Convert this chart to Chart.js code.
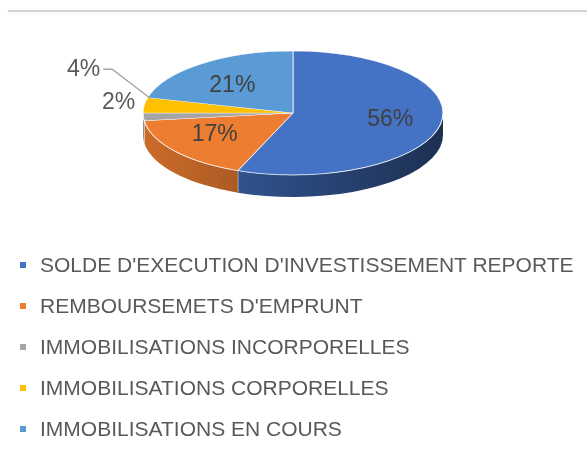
<!DOCTYPE html>
<html>
<head>
<meta charset="utf-8">
<script src="https://cdn.jsdelivr.net/npm/chart.js@4.4.1/dist/chart.umd.min.js"></script>
<style>
  body { margin: 0; background: #fff; font-family: "Liberation Sans", Arial, sans-serif; }
  #wrap { position: relative; width: 587px; height: 452px; overflow: hidden; }
  #topRule { position: absolute; left: 8px; right: 0; top: 10px; height: 2px; background: #d3d3d3; box-shadow: 0 2px 3px rgba(0,0,0,0.05); }
  #pie { position: absolute; left: 0; top: 0; }
  #legend { position: absolute; left: 0; top: 244px; margin: 0; padding: 0; list-style: none; }
  #legend li { position: relative; height: 41px; line-height: 41px; padding-left: 40px; font-size: 21px; color: #595959; white-space: nowrap; }
  #legend li span { position: absolute; left: 20px; top: 18px; width: 6px; height: 6px; }
</style>
</head>
<body>
<div id="wrap">
  <div id="topRule"></div>
  <canvas id="pie" width="587" height="452"></canvas>
  <ul id="legend"></ul>
</div>
<script>
const categories = [
  "SOLDE D'EXECUTION D'INVESTISSEMENT REPORTE",
  "REMBOURSEMETS D'EMPRUNT",
  "IMMOBILISATIONS INCORPORELLES",
  "IMMOBILISATIONS CORPORELLES",
  "IMMOBILISATIONS EN COURS"
];
const shares = [56, 17, 2, 4, 21];
const sliceColors = ['#4472C4', '#ED7D31', '#A5A5A5', '#FFC000', '#5B9BD5'];

// where the tilted pie sits on the page
const PIE = { x: 293, y: 113, rx: 150, ry: 62, depth: 22 };

function shade(hex, f) {
  const n = parseInt(hex.slice(1), 16);
  const r = Math.round(((n >> 16) & 255) * f);
  const g = Math.round(((n >> 8) & 255) * f);
  const b = Math.round((n & 255) * f);
  return `rgb(${r},${g},${b})`;
}

// Draws the pie as a tilted disc: side wall first, then squashes the flat pie
const pie3d = {
  id: 'pie3d',
  beforeDatasetsDraw(chart) {
    const ctx = chart.ctx;
    const arcs = chart.getDatasetMeta(0).data;
    const { x: cx, y: cy, outerRadius: r } = arcs[0];

    ctx.save();
    arcs.forEach((arc, i) => {
      const a1 = Math.max(arc.startAngle, 0);
      const a2 = Math.min(arc.endAngle, Math.PI);
      if (a2 <= a1) return;
      const g = ctx.createLinearGradient(PIE.x - PIE.rx, 0, PIE.x + PIE.rx, 0);
      g.addColorStop(0, shade(sliceColors[i], 0.86));
      g.addColorStop(1, shade(sliceColors[i], 0.42));
      ctx.beginPath();
      ctx.ellipse(PIE.x, PIE.y, PIE.rx, PIE.ry, 0, a1, a2);
      ctx.ellipse(PIE.x, PIE.y + PIE.depth, PIE.rx, PIE.ry, 0, a2, a1, true);
      ctx.closePath();
      ctx.fillStyle = g;
      ctx.fill();
      // seam between two walls
      if (arc.endAngle > 0 && arc.endAngle < Math.PI) {
        const sx = PIE.x + PIE.rx * Math.cos(arc.endAngle);
        const sy = PIE.y + PIE.ry * Math.sin(arc.endAngle);
        ctx.beginPath();
        ctx.moveTo(sx, sy);
        ctx.lineTo(sx, sy + PIE.depth);
        ctx.strokeStyle = 'rgba(255,255,255,0.7)';
        ctx.lineWidth = 1.2;
        ctx.stroke();
      }
    });
    ctx.restore();

    ctx.save();
    ctx.translate(PIE.x, PIE.y);
    ctx.scale(PIE.rx / r, PIE.ry / r);
    ctx.translate(-cx, -cy);
  },
  afterDatasetsDraw(chart) {
    const ctx = chart.ctx;
    ctx.restore();
    const arcs = chart.getDatasetMeta(0).data;

    // light rim along the front edge of the top face
    ctx.save();
    ctx.beginPath();
    ctx.ellipse(PIE.x, PIE.y, PIE.rx, PIE.ry, 0, 0, Math.PI);
    ctx.strokeStyle = 'rgba(255,255,255,0.55)';
    ctx.lineWidth = 1;
    ctx.stroke();

    ctx.font = '23px "Liberation Sans", Arial, sans-serif';
    ctx.textBaseline = 'middle';
    let small = 0;
    arcs.forEach((arc, i) => {
      const mid = (arc.startAngle + arc.endAngle) / 2;
      const c = Math.cos(mid), s = Math.sin(mid);
      const text = shares[i] + '%';
      if (shares[i] >= 10) {
        ctx.fillStyle = '#404040';
        ctx.textAlign = 'center';
        ctx.fillText(text, PIE.x + PIE.rx * 0.66 * c, PIE.y + PIE.ry * 0.56 * s);
        return;
      }
      const ex = PIE.x + PIE.rx * c;
      const ey = PIE.y + PIE.ry * s;
      ctx.fillStyle = '#595959';
      ctx.textAlign = 'right';
      if (small === 0) {
        ctx.fillText(text, ex - 8, ey - 14);
      } else {
        // callout with leader line
        const px = ex + 6, py = ey - 7;
        const kx = px - 38, ky = py - 29;
        ctx.beginPath();
        ctx.moveTo(px, py);
        ctx.lineTo(kx, ky);
        ctx.lineTo(kx - 9, ky);
        ctx.strokeStyle = '#a6a6a6';
        ctx.lineWidth = 1.5;
        ctx.stroke();
        ctx.fillText(text, kx - 12, ky);
      }
      small++;
    });
    ctx.restore();
  }
};

new Chart(document.getElementById('pie'), {
  type: 'pie',
  data: {
    labels: categories,
    datasets: [{
      data: shares,
      backgroundColor: sliceColors,
      borderColor: 'rgba(255,255,255,0.75)',
      borderWidth: 1,
      clip: false
    }]
  },
  options: {
    responsive: false,
    animation: false,
    layout: { padding: { left: 143, right: 144, top: 76, bottom: 76 } },
    plugins: {
      legend: { display: false },
      tooltip: { enabled: false }
    }
  },
  plugins: [pie3d]
});

const legend = document.getElementById('legend');
categories.forEach((name, i) => {
  const li = document.createElement('li');
  const box = document.createElement('span');
  box.style.background = sliceColors[i];
  li.appendChild(box);
  li.appendChild(document.createTextNode(name));
  legend.appendChild(li);
});
</script>
</body>
</html>
